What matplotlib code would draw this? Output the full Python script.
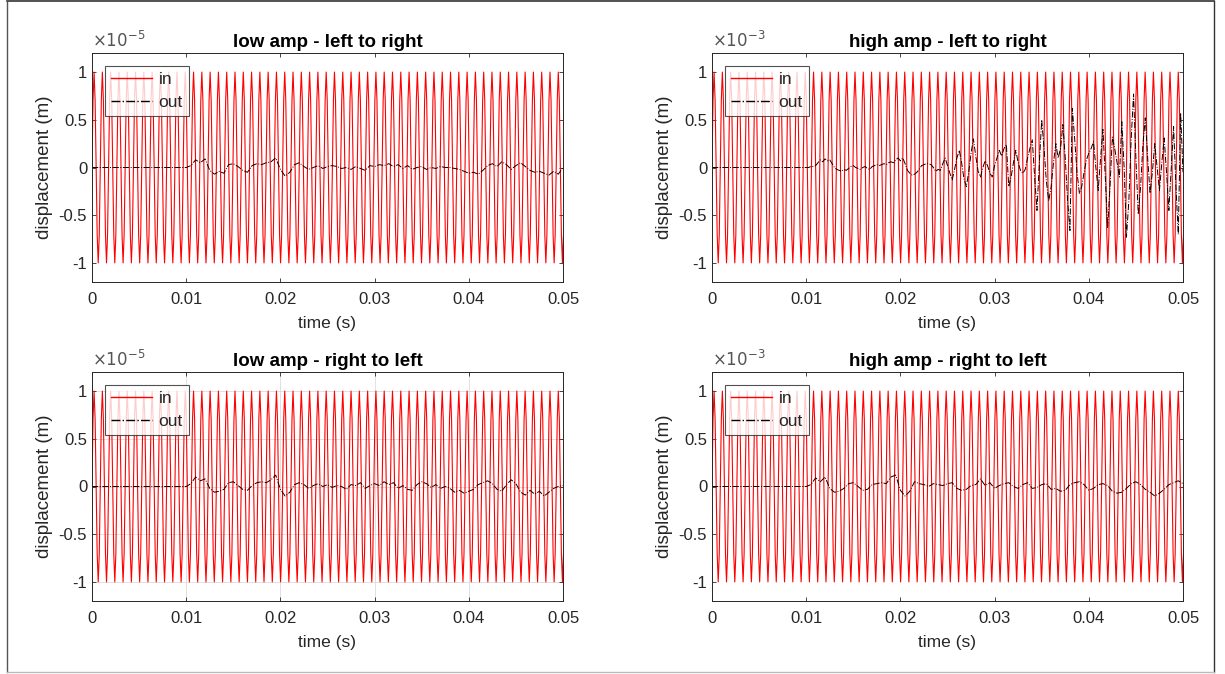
import matplotlib.pyplot as plt
import numpy as np

plt.rcParams['font.family'] = ['Liberation Sans', 'DejaVu Sans']
plt.rcParams['axes.unicode_minus'] = False

# Input tone: one period of samples, sampling interval (s), duration (s)
IN_PERIOD = [0.0, 0.707, 1.0, 0.707, 0.0, -0.707, -1.0, -0.707]
IN_DT = 1.1e-4
T_END = 0.05

# Output displacement, read in scaled units (x1e-5 for low amp, x1e-3 for high amp)
OUT_DT_LOW = 0.0005
OUT_DT_HIGH = 0.00025

out_low_lr = [0.0] * 21 + [
    0.02, 0.08, 0.05, 0.09, -0.03, -0.07, -0.04, -0.06, 0.03, 0.04,
    0.01, -0.03, -0.05, 0.02, 0.04, 0.03, 0.05, 0.06, 0.10, -0.02,
    -0.09, -0.05, 0.03, 0.05, 0.01, -0.02, 0.0, 0.02, -0.01, 0.01,
    0.02, 0.01, -0.01, 0.0, -0.02, 0.01, -0.01, -0.03, 0.02, 0.01,
    0.03, 0.02, 0.04, 0.01, 0.03, -0.01, 0.02, -0.02, 0.0, 0.01,
    -0.02, 0.0, -0.01, 0.01, 0.0, 0.0, -0.01, -0.02, -0.04, -0.06,
    -0.05, -0.07, -0.03, 0.02, 0.04, 0.01, 0.06, 0.03, -0.02, 0.02,
    0.05, 0.01, -0.03, -0.05, -0.04, -0.06, -0.08, -0.04, -0.07, 0.0]

out_low_rl = [0.0] * 21 + [
    0.03, 0.10, 0.06, 0.08, -0.02, -0.06, -0.05, -0.03, 0.04, 0.05,
    0.01, -0.03, -0.04, 0.01, 0.04, 0.05, 0.04, 0.07, 0.12, -0.03,
    -0.10, -0.06, 0.02, 0.04, 0.02, -0.02, 0.01, 0.03, 0.0, 0.02,
    -0.01, 0.01, 0.0, -0.03, 0.02, 0.01, 0.04, -0.02, 0.01, 0.03,
    0.01, 0.05, 0.02, 0.04, -0.02, 0.01, -0.03, -0.04, 0.02, 0.05,
    0.03, -0.01, 0.02, -0.02, 0.0, -0.02, -0.06, -0.04, -0.07, -0.05,
    -0.03, 0.02, 0.04, 0.06, 0.03, -0.03, -0.05, 0.02, 0.07, 0.03,
    -0.06, -0.09, -0.04, -0.08, -0.05, -0.10, -0.06, -0.02, 0.0, 0.01]

out_high_rl = [0.0] * 21 + [
    0.02, 0.09, 0.05, 0.10, -0.02, -0.06, -0.05, -0.02, 0.03, 0.04,
    0.0, -0.04, -0.03, 0.02, 0.03, 0.04, 0.03, 0.10, 0.12, -0.04,
    -0.10, -0.05, 0.05, 0.03, 0.02, 0.0, 0.03, 0.02, 0.01, 0.03,
    0.04, -0.02, -0.04, -0.03, 0.01, 0.02, 0.08, 0.01, 0.04, -0.02,
    0.01, 0.03, 0.04, 0.0, -0.02, 0.02, 0.04, -0.02, -0.01, 0.02,
    0.03, -0.03, -0.02, -0.05, -0.04, 0.02, 0.04, 0.05, 0.02, -0.04,
    -0.02, 0.02, 0.03, 0.01, -0.05, -0.07, -0.06, -0.02, 0.03, 0.05,
    0.02, -0.03, -0.06, -0.10, -0.07, -0.03, 0.02, 0.04, 0.06, 0.03]

out_high_lr = [0.0] * 42 + [
    0.01, 0.01, 0.02, 0.05, 0.08, 0.06, 0.09, 0.07, 0.08, 0.04,
    0.0, -0.02, -0.03, -0.04, -0.02, -0.03, -0.01, 0.01, 0.02, 0.0,
    -0.01, -0.02, 0.0, 0.01, -0.01, -0.02, 0.01, 0.02, 0.03, 0.02,
    0.03, 0.04, 0.03, 0.05, 0.06, 0.05, 0.08, 0.10, 0.07, 0.10,
    0.04, -0.03, -0.06, -0.08, -0.07, -0.05, -0.02, 0.02, 0.03, 0.04,
    0.04, 0.03, 0.0, -0.04, -0.02, -0.03, 0.04, 0.10, 0.02, -0.06,
    -0.13, -0.02, 0.10, 0.18, 0.05, -0.12, -0.20, -0.05, 0.15, 0.30,
    0.12, -0.04, -0.10, 0.0, 0.07, 0.02, -0.06, -0.10, 0.02, 0.10,
    0.18, 0.12, 0.20, 0.24, -0.20, -0.10, 0.05, 0.18, 0.05, -0.03,
    -0.06, -0.02, 0.10, 0.20, 0.29, -0.10, -0.45, 0.05, 0.50, 0.20,
    -0.15, -0.35, -0.20, 0.05, 0.25, 0.10, 0.20, 0.45, 0.10, -0.35,
    -0.66, 0.62, 0.30, -0.05, -0.27, -0.20, -0.05, 0.08, 0.15, 0.20,
    0.27, 0.0, -0.24, 0.10, 0.40, -0.10, -0.63, -0.20, 0.32, 0.20,
    0.05, -0.10, 0.48, 0.0, -0.73, -0.35, 0.30, 0.77, 0.10, -0.49,
    -0.20, 0.25, 0.52, 0.10, -0.27, -0.05, 0.25, 0.0, -0.24, 0.05,
    0.31, -0.05, -0.45, 0.0, 0.43, -0.20, -0.70, 0.57, -0.05]

panels = [
    ("low amp - left to right", -5, out_low_lr, OUT_DT_LOW, False),
    ("high amp - left to right", -3, out_high_lr, OUT_DT_HIGH, False),
    ("low amp - right to left", -5, out_low_rl, OUT_DT_LOW, True),
    ("high amp - right to left", -3, out_high_rl, OUT_DT_LOW, False),
]

xticks = [0, 0.01, 0.02, 0.03, 0.04, 0.05]
yticks = [-1, -0.5, 0, 0.5, 1]

W, H = 1225, 674
LEFTS = [92, 712]
TOPS = [53, 372]
AX_W, AX_H = 471, 229
EDGE = '#262626'


def input_signal():
    n = int(round(T_END / IN_DT)) + 1
    reps = n // len(IN_PERIOD) + 1
    y = np.tile(IN_PERIOD, reps)[:n]
    t = np.arange(n) * IN_DT
    return t, y


def draw_panel(ax, title, exp, out, dt, grid):
    t_in, y_in = input_signal()
    t_out = np.arange(len(out)) * dt
    ax.plot(t_in, y_in, color='#ff0000', linewidth=0.8, label='in')
    ax.plot(t_out, out, color='k', linestyle='-.', linewidth=0.7, label='out')

    ax.set_xlim(0, T_END)
    ax.set_ylim(-1.2, 1.2)
    ax.set_xticks(xticks)
    ax.set_xticklabels(['%g' % v for v in xticks])
    ax.set_yticks(yticks)
    ax.set_yticklabels(['%g' % v for v in yticks])
    ax.tick_params(direction='in', top=True, right=True, length=3,
                   labelsize=12, colors=EDGE, width=0.6)
    ax.tick_params(axis='x', pad=7)
    for s in ax.spines.values():
        s.set_color(EDGE)
        s.set_linewidth(0.7)
    if grid:
        ax.grid(True, color='#dcdcdc', linewidth=0.6)
        ax.set_axisbelow(True)

    ax.set_xlabel('time (s)', fontsize=12.5, color=EDGE, labelpad=7)
    ax.set_ylabel('displacement (m)', fontsize=13.5, color=EDGE, labelpad=4)
    ax.set_title(title, fontsize=13.5, fontweight='bold', pad=4)
    ax.text(0.0, 1.012, r'$\times 10^{%d}$' % exp, transform=ax.transAxes,
            ha='left', va='bottom', fontsize=12, color='#555555')

    leg = ax.legend(loc='upper left', fontsize=12.5, frameon=True, fancybox=False,
                    bbox_to_anchor=(0.027, 0.945), borderaxespad=0.0,
                    handlelength=2.4, handletextpad=0.35,
                    borderpad=0.35, labelspacing=0.45)
    leg.get_frame().set_edgecolor(EDGE)
    leg.get_frame().set_linewidth(0.8)
    for line in leg.get_lines():
        line.set_linewidth(1.0)
    for txt in leg.get_texts():
        txt.set_color(EDGE)


def main():
    fig = plt.figure(figsize=(W / 100, H / 100), dpi=100)

    # outer frame of the figure
    fig.add_artist(plt.Line2D([7 / W, 1214 / W], [1 - 1 / H, 1 - 1 / H],
                              transform=fig.transFigure, color='#333333', linewidth=1.2))
    fig.add_artist(plt.Line2D([7 / W, 7 / W], [1 - 1 / H, 1 - 672 / H],
                              transform=fig.transFigure, color='#555555', linewidth=1.0))
    fig.add_artist(plt.Line2D([1214 / W, 1214 / W], [1 - 1 / H, 1 - 672 / H],
                              transform=fig.transFigure, color='#333333', linewidth=1.0))
    fig.add_artist(plt.Line2D([7 / W, 1214 / W], [1 - 672 / H, 1 - 672 / H],
                              transform=fig.transFigure, color='#bbbbbb', linewidth=1.0))

    for i, (title, exp, out, dt, grid) in enumerate(panels):
        left = LEFTS[i % 2]
        top = TOPS[i // 2]
        ax = fig.add_axes([left / W, 1 - (top + AX_H) / H, AX_W / W, AX_H / H])
        draw_panel(ax, title, exp, out, dt, grid)

    fig.savefig('out.png', dpi=100)
    plt.close(fig)


if __name__ == "__main__":
    main()
